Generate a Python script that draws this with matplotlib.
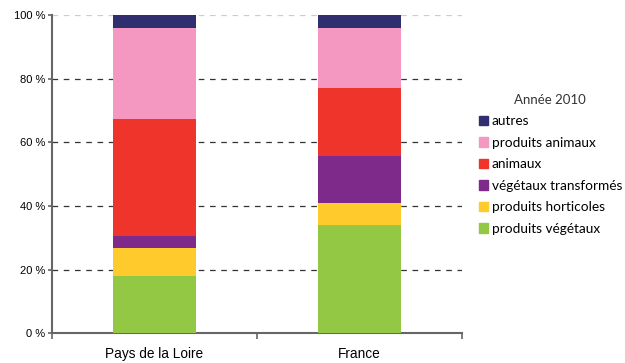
import numpy as np
import matplotlib
matplotlib.use('Agg')
import matplotlib.pyplot as plt
from matplotlib.patches import Patch

plt.rcParams['font.family'] = ['Liberation Sans', 'DejaVu Sans']

# données (en %)
regions = ['Pays de la Loire', 'France']
categories = ['produits végétaux', 'produits horticoles', 'végétaux transformés',
              'animaux', 'produits animaux', 'autres']
valeurs = {
    'produits végétaux': [18.0, 34.0],
    'produits horticoles': [8.8, 6.9],
    'végétaux transformés': [3.8, 14.9],
    'animaux': [36.7, 21.3],
    'produits animaux': [28.6, 18.8],
    'autres': [4.1, 4.1],
}
couleurs = ['#92c843', '#ffca2b', '#7d2a8a', '#ef342c', '#f498c2', '#302e6e']
yticks = [0, 20, 40, 60, 80, 100]

fig = plt.figure(figsize=(6.25, 3.63), dpi=100)
ax = fig.add_axes([0.0832, 0.0818, 0.6557, 0.877])

x = np.arange(len(regions)) + 0.5
bas = np.zeros(len(regions))
for cat, col in zip(categories, couleurs):
    v = np.array(valeurs[cat])
    ax.bar(x, v, bottom=bas, width=0.405, color=col, zorder=3)
    bas += v

# lignes de grille pointillées
for t in yticks[1:]:
    c = '#cccccc' if t == 100 else '#333333'
    ax.axhline(t, color=c, linestyle=(0, (4.5, 4.5)), linewidth=0.9, zorder=1)

ax.set_xlim(0, 2)
ax.set_ylim(0, 100)
ax.set_yticks(yticks)
ax.set_yticklabels([f'{t} %' for t in yticks], fontsize=8)
ax.set_xticks([0, 1, 2])
ax.set_xticklabels([])
ax.set_xticks(x, minor=True)
ax.set_xticklabels(regions, minor=True, fontsize=9.8)
ax.tick_params(axis='x', which='minor', length=0, pad=10)
ax.tick_params(axis='x', which='major', length=4, color='#666666', width=1.2)
ax.tick_params(axis='y', length=3, color='#666666', width=1.2, pad=2)

for s in ['top', 'right']:
    ax.spines[s].set_visible(False)
for s in ['left', 'bottom']:
    ax.spines[s].set_color('#666666')
    ax.spines[s].set_linewidth(1.5)

handles = [Patch(color=c, label=l) for l, c in zip(categories, couleurs)][::-1]
leg = fig.legend(handles=handles, loc='upper left', bbox_to_anchor=(0.757, 0.757),
                 frameon=False, title='Année 2010',
                 title_fontproperties={'family': 'Lato', 'size': 9.5},
                 prop={'family': 'Lato', 'size': 9.8},
                 handlelength=0.7, handleheight=0.7, handletextpad=0.25,
                 labelspacing=0.7, borderaxespad=0)
leg.get_title().set_color('#333333')

fig.savefig('out.png', dpi=100)
